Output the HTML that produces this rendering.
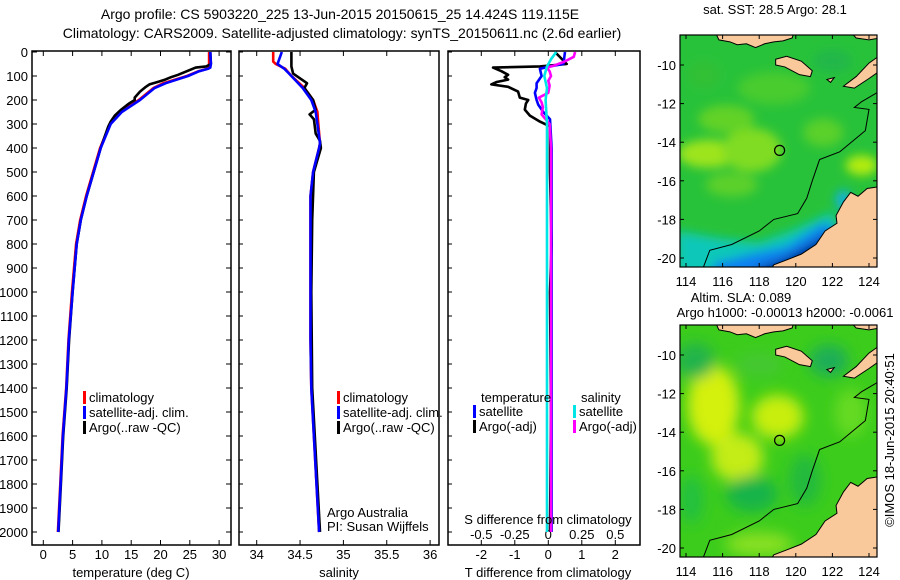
<!DOCTYPE html>
<html><head><meta charset="utf-8"><style>
html,body{margin:0;padding:0;background:#fff;}
svg{display:block;font-family:"Liberation Sans",sans-serif;}
text{font-size:13px;fill:#000;}
</style></head><body>
<svg id="fig" width="900" height="580" viewBox="0 0 900 580" xmlns="http://www.w3.org/2000/svg">
<defs>
<filter id="blur1" x="-20%" y="-20%" width="140%" height="140%"><feGaussianBlur stdDeviation="5"/></filter>
<filter id="blur2" x="-30%" y="-30%" width="160%" height="160%"><feGaussianBlur stdDeviation="7"/></filter>
<clipPath id="clipM1"><rect x="680" y="35" width="197" height="232"/></clipPath>
<clipPath id="clipM2"><rect x="680" y="325" width="197" height="232"/></clipPath>
<clipPath id="clipP1"><rect x="32" y="51" width="199" height="494"/></clipPath>
<clipPath id="clipP2"><rect x="239" y="51" width="200" height="494"/></clipPath>
<clipPath id="clipP3"><rect x="448" y="51" width="192" height="494"/></clipPath>
</defs>
<text x="340" y="19" text-anchor="middle" style="font-size:14px">Argo profile: CS 5903220_225 13-Jun-2015 20150615_25 14.424S 119.115E</text>
<text x="342" y="38" text-anchor="middle" style="font-size:14px">Climatology: CARS2009. Satellite-adjusted climatology: synTS_20150611.nc (2.6d earlier)</text>
<g id="panels"></g>
<g id="maps"></g>
<text x="775" y="14" text-anchor="middle">sat. SST: 28.5 Argo: 28.1</text>
<text x="741" y="302" text-anchor="middle">Altim. SLA: 0.089</text>
<text x="785" y="317" text-anchor="middle">Argo h1000: -0.00013 h2000: -0.0061</text>
<text transform="translate(894,440) rotate(-90)" text-anchor="middle">©IMOS 18-Jun-2015 20:40:51</text>
</svg>
<script>
// ---- profile data (depth in dbar) ----
const tDepth = [0,50,65,70,80,100,130,150,200,250,300,400,500,600,700,800,1000,1200,1400,1600,1800,2000];
const tClim  = [28.3,28.3,28.2,28.0,26.5,24.5,20.5,18.8,16.3,13.2,11.4,9.7,8.5,7.3,6.3,5.6,4.9,4.3,3.9,3.3,2.9,2.5];
const tSat   = [28.5,28.6,28.5,28.1,26.6,24.7,20.9,19.0,16.5,13.4,11.5,9.8,8.6,7.4,6.4,5.7,5.0,4.35,3.95,3.35,2.95,2.55];
const tArgoDepth = [0,50,60,65,80,95,105,115,125,135,145,165,190,200,215,240,265,290,310,400,500,600,700,800,1000,1200,1400,1600,1800,2000];
const tArgo  = [28.5,28.6,27.8,26.0,24.5,23.0,21.8,20.8,19.5,18.1,17.5,16.5,15.6,15.6,14.6,13.3,12.2,11.5,11.1,9.8,8.6,7.4,6.4,5.7,5.0,4.4,4.0,3.4,3.0,2.6];
const sDepth = [0,40,50,70,100,150,200,250,300,380,400,500,600,800,1000,1200,1400,1600,1800,2000];
const sClim  = [34.19,34.19,34.22,34.33,34.40,34.55,34.65,34.70,34.71,34.73,34.72,34.65,34.62,34.62,34.62,34.62,34.63,34.66,34.69,34.72];
const sSat   = [34.29,34.25,34.24,34.32,34.40,34.53,34.63,34.68,34.70,34.73,34.72,34.65,34.62,34.62,34.62,34.62,34.63,34.66,34.69,34.72];
const sArgoDepth = [0,60,90,130,150,200,240,260,280,340,370,400,500,700,1000,1400,1600,1800,2000];
const sArgo  = [34.40,34.40,34.42,34.58,34.55,34.65,34.68,34.61,34.66,34.68,34.73,34.74,34.66,34.64,34.63,34.64,34.67,34.70,34.73];
// differences
const dtSatDepth = [0,50,60,70,100,130,150,170,200,220,250,280,400,700,1000,1500,2000];
const dtSat  = [0.5,0.45,0.05,-0.25,-0.2,-0.35,-0.35,-0.4,-0.35,-0.3,-0.15,0.05,0.1,0.1,0.1,0.1,0.1];
const dtArgoDepth = [0,50,60,65,80,95,105,115,125,135,145,165,190,200,215,240,265,290,310,500,800,1000,1500,2000];
const dtArgo = [0.2,0.55,-0.25,-1.65,-1.4,-1.2,-1.3,-1.2,-1.54,-1.7,-1.2,-0.9,-0.85,-0.6,-0.67,-0.7,-0.55,-0.25,0.05,0.05,0.1,0.05,0.08,0.05];
const dsSatDepth = [0,30,60,100,150,200,300,400,600,1000,2000];
const dsSat  = [0.06,0.02,-0.01,-0.03,-0.01,-0.02,-0.01,-0.01,-0.01,-0.01,-0.01];
const dsArgoDepth = [0,20,40,55,65,80,100,120,140,170,190,210,230,260,280,300,400,1000,2000];
const dsArgo = [0.2,0.19,0.12,0.05,-0.01,0.01,0.02,0.0,0.01,0.0,-0.07,-0.05,-0.04,-0.05,-0.02,0.01,0.02,0.02,0.02];
const depthTicks = [0,100,200,300,400,500,600,700,800,900,1000,1100,1200,1300,1400,1500,1600,1700,1800,1900,2000];
const tTicks = [0,5,10,15,20,25,30];
const sTicks = [34,34.5,35,35.5,36];
const dtTicks = [-2,-1,0,1,2];
const dsTicks = [-0.5,-0.25,0,0.25,0.5];
const dsTickLabels = ['-0.5','-0.25','0','0.25','0.5'];
// ---- map data ----
const lonTicks = [114,116,118,120,122,124];
const latTicks = [-10,-12,-14,-16,-18,-20];
const argoLon = 119.115, argoLat = -14.424;

const NS='http://www.w3.org/2000/svg';
function mk(tag, attrs, parent){const e=document.createElementNS(NS,tag);for(const k in attrs)e.setAttribute(k,attrs[k]);parent.appendChild(e);return e;}
const yD = d => 52 + d*0.24;
const xT = t => 43.3 + t*5.86;
const xS = s => 256.7 + (s-34)*86.7;
const xDT = v => 548.3 + v*33.5;
const xDS = v => 548.3 + v*134;
const P = document.getElementById('panels');

function frame(x0,x1,name){
  const r=mk('rect',{x:x0,y:51,width:x1-x0,height:494,fill:'none',stroke:'#000','stroke-width':1.5},P);
  
  
}
frame(32,231,'temperature-panel-frame');
frame(239,439,'salinity-panel-frame');
frame(448,640,'difference-panel-frame');

depthTicks.forEach(d=>{
  const y=yD(d);
  mk('line',{x1:32,x2:37,y1:y,y2:y,stroke:'#000'},P);
  mk('line',{x1:226,x2:231,y1:y,y2:y,stroke:'#000'},P);
  mk('line',{x1:239,x2:243,y1:y,y2:y,stroke:'#000'},P);
  mk('line',{x1:448,x2:452,y1:y,y2:y,stroke:'#000'},P);
  const t=mk('text',{x:28,y:y+5,'text-anchor':'end'},P);
  t.textContent=d;
  
  
});
function xticks(vals,fx,labels,ly,name,top){
  vals.forEach((v,i)=>{
    const x=fx(v);
    mk('line',{x1:x,x2:x,y1:545,y2:540,stroke:'#000'},P);
    if(top) mk('line',{x1:x,x2:x,y1:51,y2:56,stroke:'#000'},P);
    const t=mk('text',{x:x,y:ly,'text-anchor':'middle'},P);
    t.textContent=labels?labels[i]:v;
    
    
  });
}
xticks(tTicks,xT,null,559,'temperature-tick-label',true);
xticks(sTicks,xS,null,559,'salinity-tick-label',true);
xticks(dtTicks,xDT,null,559,'t-diff-tick-label',true);
dsTicks.forEach((v,i)=>{
  const t=mk('text',{x:xDS(v),y:539,'text-anchor':'middle'},P);
  t.textContent=dsTickLabels[i];
  
  
});

function line(depths,vals,fx,color,clip,name,w){
  const pts=depths.map((d,i)=>fx(vals[i]).toFixed(1)+','+yD(d).toFixed(1)).join(' ');
  const p=mk('polyline',{points:pts,fill:'none',stroke:color,'stroke-width':w||2.6,'clip-path':'url(#'+clip+')','stroke-linejoin':'round'},P);
  
  
}
line(tDepth,tClim,xT,'#ff0000','clipP1','temperature-climatology-line');
line(tArgoDepth,tArgo,xT,'#000000','clipP1','temperature-argo-line');
line(tDepth,tSat,xT,'#0000ff','clipP1','temperature-satellite-line');
line(sDepth,sClim,xS,'#ff0000','clipP2','salinity-climatology-line');
line(sArgoDepth,sArgo,xS,'#000000','clipP2','salinity-argo-line');
line(sDepth,sSat,xS,'#0000ff','clipP2','salinity-satellite-line');
line(dtArgoDepth,dtArgo,xDT,'#000000','clipP3','t-diff-argo-line');
line(dtSatDepth,dtSat,xDT,'#0000ff','clipP3','t-diff-satellite-line');
line(dsArgoDepth,dsArgo,xDS,'#ff00ff','clipP3','s-diff-argo-line');
line(dsSatDepth,dsSat,xDS,'#00e5e5','clipP3','s-diff-satellite-line');

function legend(x,y,color,label,name){
  mk('rect',{x:x,y:y-11,width:3,height:13,fill:color},P);
  const t=mk('text',{x:x+6,y:y},P);
  t.textContent=label;
  
  
}
legend(83,402,'#ff0000','climatology','legend-climatology');
legend(83,417,'#0000ff','satellite-adj. clim.','legend-satellite-adj');
legend(83,432,'#000','Argo(..raw -QC)','legend-argo');
legend(337,402,'#ff0000','climatology','legend-climatology-sal');
legend(337,417,'#0000ff','satellite-adj. clim.','legend-satellite-adj-sal');
legend(337,432,'#000','Argo(..raw -QC)','legend-argo-sal');
function txt(x,y,s,name,anchor){const t=mk('text',{x:x,y:y,'text-anchor':anchor||'start'},P);t.textContent=s;return t;}
txt(481,402,'temperature','legend-temperature-heading');
legend(473,416,'#0000ff','satellite','legend-t-satellite');
legend(473,431,'#000','Argo(-adj)','legend-t-argo');
txt(581,402,'salinity','legend-salinity-heading');
legend(573,416,'#00e5e5','satellite','legend-s-satellite');
legend(573,431,'#ff00ff','Argo(-adj)','legend-s-argo');
txt(327,517,'Argo Australia','argo-australia-note');
txt(327,531,'PI: Susan Wijffels','pi-note');
txt(131,577,'temperature (deg C)','temperature-axis-title','middle');
txt(339,577,'salinity','salinity-axis-title','middle');
txt(548,577,'T difference from climatology','t-diff-axis-title','middle');
txt(548,524,'S difference from climatology','s-diff-axis-title','middle');

// ---- maps ----
const M=document.getElementById('maps');
const mx = lon => 686 + (lon-114)*18.3;
function drawMap(y0,clip,kind){
  const my = lat => y0 + (-lat-10)*19.3;
  const g=mk('g',{'clip-path':'url(#'+clip+')'},M);
  
  
  const top=y0-30;
  if(kind==='sst'){
    mk('rect',{x:680,y:top,width:197,height:232,fill:'#28c23a'},g);
    const b=mk('g',{filter:'url(#blur1)'},g);
    [[115.2,-14.6,30,14,'#9ee41a'],[117.6,-14.4,30,22,'#80dc22'],[123.6,-15.2,16,10,'#b4ec10'],[116.2,-12.8,28,14,'#62d228'],[121.5,-13.5,20,14,'#5ad02a'],[118.8,-11.2,36,16,'#48cc2e'],[116.5,-16.2,26,12,'#5cd02a'],[115,-10.5,16,14,'#30c034'],[122,-9.8,20,12,'#22b848']]
      .forEach(c=>mk('ellipse',{cx:mx(c[0]),cy:my(c[1]),rx:c[2],ry:c[3],fill:c[4]},b));
    mk('polygon',{points:[[113.5,-18.6],[116,-19.0],[118,-19.2],[120,-18.5],[122,-17.6],[122.5,-19],[119,-21],[113.5,-21]].map(p=>mx(p[0])+','+my(p[1])).join(' '),fill:'#10c8b8'},b);
    mk('polygon',{points:[[115.5,-20.3],[117.5,-19.8],[119.5,-19.4],[121.5,-18.2],[122.3,-18.5],[120,-21],[115.5,-21]].map(p=>mx(p[0])+','+my(p[1])).join(' '),fill:'#0a80f0'},b);
    mk('polygon',{points:[[117.8,-20.6],[119.5,-20.0],[121,-19.2],[122,-18.6],[121,-21],[117.8,-21]].map(p=>mx(p[0])+','+my(p[1])).join(' '),fill:'#001c88'},b);
    mk('ellipse',{cx:mx(122.6),cy:my(-17),rx:8,ry:10,fill:'#10b0e0'},b);
  } else {
    mk('rect',{x:680,y:top,width:197,height:232,fill:'#3ccc1c'},g);
    const b=mk('g',{filter:'url(#blur2)'},g);
    [[115.5,-12.6,26,40,'#d4f010'],[116.8,-15.3,26,24,'#c4ec12'],[119,-13.2,26,22,'#c8ee10'],[114.5,-10.3,20,18,'#20b44c'],[117.6,-17.2,26,18,'#18b448'],[121.8,-10.3,20,16,'#1cae58'],[120.5,-16.5,16,26,'#20ba3c'],[114.3,-17.5,12,24,'#22c040'],[123,-13,16,24,'#66da20'],[118,-19.8,34,12,'#88e020'],[118,-10.5,24,12,'#44c830']]
      .forEach(c=>mk('ellipse',{cx:mx(c[0]),cy:my(c[1]),rx:c[2],ry:c[3],fill:c[4]},b));
  }
  const land='#f9c99b';
  const poly=(pts,name)=>{const p=mk('polygon',{points:pts.map(p=>mx(p[0])+','+my(p[1])).join(' '),fill:land,stroke:'#000','stroke-width':1},g);};
  poly([[124.6,-16.3],[123.9,-16.4],[123.4,-16.8],[123,-16.6],[122.6,-17.1],[122.2,-17.8],[122.25,-18.2],[121.6,-18.6],[121.1,-19.3],[120.3,-19.8],[119.5,-20.1],[118.8,-20.35],[118.5,-20.8],[124.6,-20.8]],'australia-coast');
  poly([[118.9,-9.7],[119.5,-9.55],[120.3,-9.8],[120.9,-10.3],[120.8,-10.6],[120.2,-10.5],[119.4,-10.1],[118.9,-10.0]],'sumba-island');
  poly([[122.6,-11.1],[123.3,-10.6],[124,-9.9],[124.6,-9.5],[124.6,-10.3],[124,-10.7],[123.2,-11.2]],'timor-island');
  poly([[115.6,-8.3],[115.8,-8.7],[116.4,-8.8],[116.8,-8.95],[117.3,-8.9],[117.8,-9.1],[118.3,-8.9],[118.8,-8.8],[119.3,-8.75],[119.8,-8.6],[119.9,-8.3]],'nusa-tenggara-strip');
  poly([[123.0,-8.3],[123.3,-8.6],[124,-8.7],[124.6,-8.6],[124.6,-8.3]],'flores-strip');
  poly([[121.7,-10.75],[122.1,-10.65],[121.9,-10.9]],'small-island');
  const c=mk('polyline',{points:[[114.9,-20.6],[115.3,-19.6],[116.5,-19.3],[118,-18.6],[118.8,-18.0],[120.1,-17.7],[120.6,-16.9],[120.9,-16.0],[121.3,-14.9],[122.4,-14.5],[123.8,-13.4],[124,-12.3],[123.2,-12.2],[123.6,-11.9],[124.5,-11.4]].map(p=>mx(p[0])+','+my(p[1])).join(' '),fill:'none',stroke:'#000','stroke-width':1},g);
  
  
  const a=mk('circle',{cx:mx(argoLon),cy:my(argoLat),r:5,fill:'none',stroke:'#000','stroke-width':1.2},M);
  
  
  mk('rect',{x:680,y:top,width:197,height:232,fill:'none',stroke:'#000','stroke-width':1.2},M);
  latTicks.forEach(l=>{
    const y=my(l);
    mk('line',{x1:680,x2:684,y1:y,y2:y,stroke:'#000'},M);
    mk('line',{x1:873,x2:877,y1:y,y2:y,stroke:'#000'},M);
    const t=mk('text',{x:676,y:y+5,'text-anchor':'end'},M);
    t.textContent=l;
    
    
  });
  lonTicks.forEach(l=>{
    const x=mx(l);
    mk('line',{x1:x,x2:x,y1:top,y2:top+4,stroke:'#000'},M);
    mk('line',{x1:x,x2:x,y1:top+232,y2:top+228,stroke:'#000'},M);
    const t=mk('text',{x:x,y:top+251,'text-anchor':'middle'},M);
    t.textContent=l;
    
    
  });
}
drawMap(65,'clipM1','sst');
drawMap(355,'clipM2','sla');
</script>
</body></html>
